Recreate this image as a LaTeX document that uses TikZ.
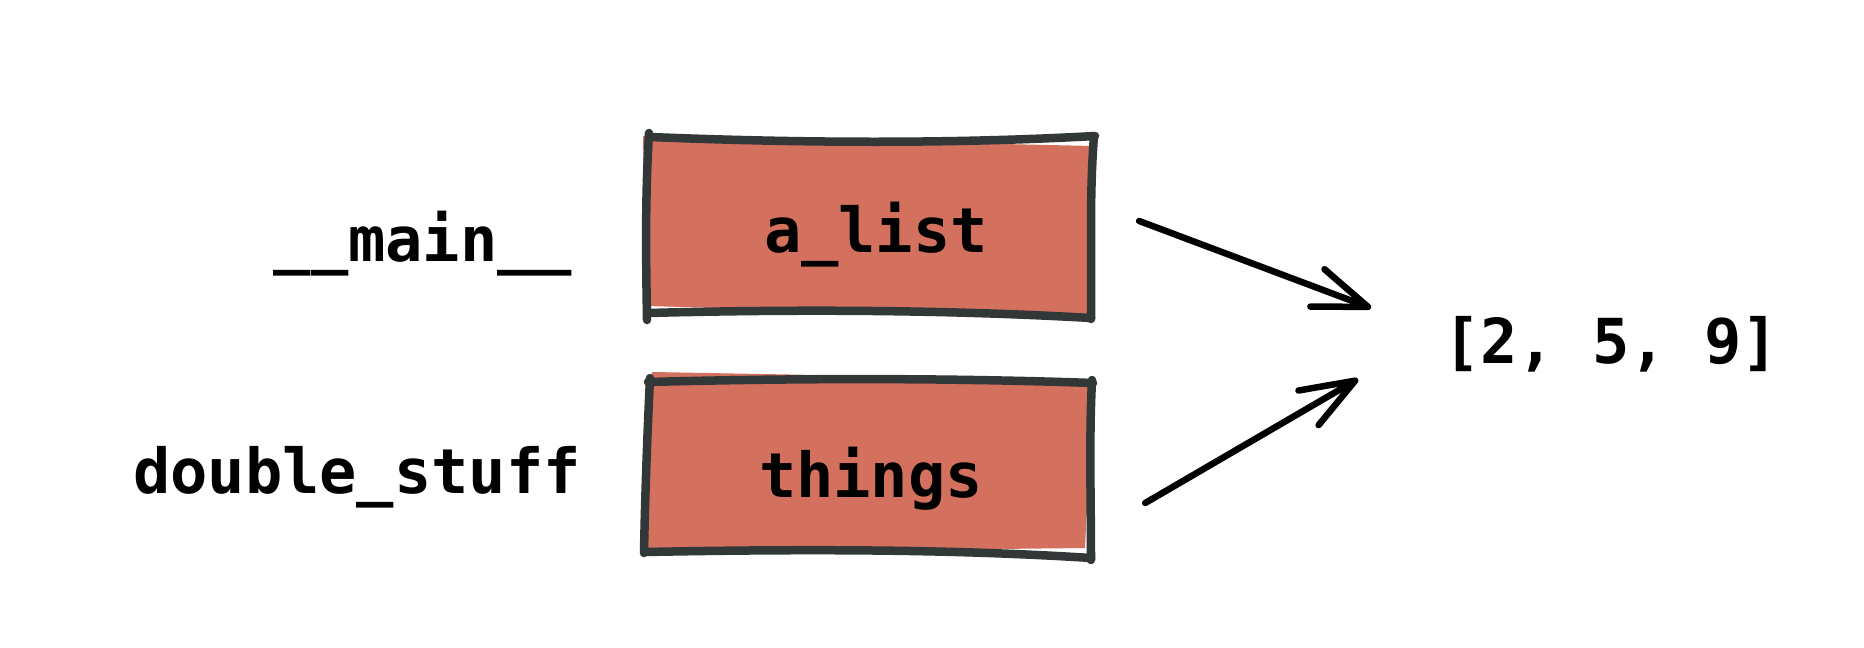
\documentclass[tikz,border=0pt]{standalone}
\usepackage{fontspec}
\setmonofont{DejaVu Sans Mono}
\usetikzlibrary{arrows.meta}
\definecolor{boxred}{HTML}{D4705E}
\definecolor{boxline}{HTML}{323838}
\begin{document}
\begin{tikzpicture}[x=1pt,y=-1pt,
  code/.style={font=\ttfamily\bfseries\fontsize{62pt}{75pt}\selectfont, inner sep=0pt, text=black},
  rough/.style={draw=boxline, line width=8.5pt, line cap=round, line join=round},
  boxnode/.style={code, minimum width=446pt, minimum height=178pt, text depth=0pt},
  link/.style={draw=black, line width=6.5pt, line cap=round, -{Straight Barb[length=54pt,width=40pt,round]}}
]
\useasboundingbox[fill=white] (0,0) rectangle (1864,648);
% box fills (slightly offset, hand-drawn look)
\fill[boxred] (643,136) -- (1093,146) -- (1093,318) -- (646,306) -- cycle;
\fill[boxred] (652,372) -- (1093,380) -- (1085,548) -- (643,553) -- cycle;
% box nodes
\node[boxnode, text height=50pt, xshift=6pt] (alist) at (870,227) {a\_list};
\node[boxnode, text height=60pt, xshift=2pt] (things) at (869,467) {things};
% rough outlines
\draw[rough] (650,137) .. controls (800,143) and (950,144) .. (1095,136);
\draw[rough] (1094,136) .. controls (1089,200) and (1092,260) .. (1091,319);
\draw[rough] (1091,318) .. controls (950,310) and (800,309) .. (648,313);
\draw[rough] (649,133) .. controls (645,200) and (646,260) .. (647,320);
\draw[rough] (648,382) .. controls (800,378) and (950,378) .. (1093,383);
\draw[rough] (650,378) .. controls (647,440) and (645,500) .. (644,553);
\draw[rough] (645,552) .. controls (800,549) and (950,549) .. (1091,558);
\draw[rough] (1092,380) .. controls (1089,440) and (1091,500) .. (1091,560);
% labels
\node[code, anchor=base] (mainlbl) at (423,261) {\_\_main\_\_};
\node[code, anchor=base] (dslbl) at (357,493) {double\_stuff};
\node[code, anchor=base] (lst) at (1611,363) {[2, 5, 9]};
% arrows
\draw[link] ([shift={(40,-6)}]alist.east) -- ([shift={(-240,-55)}]lst.base);
\draw[link] ([shift={(51,36)}]things.east) -- ([shift={(-253,16)}]lst.base);
\end{tikzpicture}
\end{document}
